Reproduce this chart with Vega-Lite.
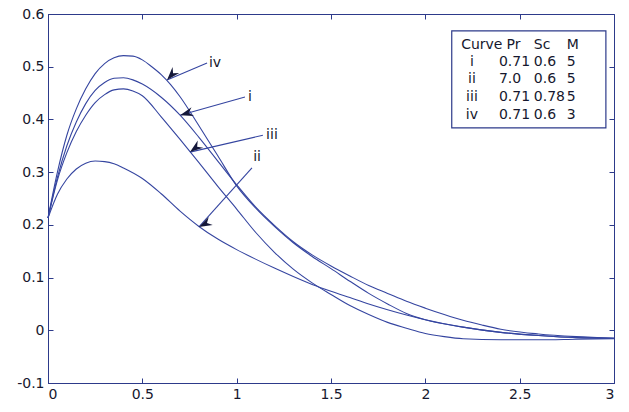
{
  "$schema": "https://vega.github.io/schema/vega-lite/v6.json",
  "width": 566,
  "height": 369,
  "autosize": "none",
  "padding": {"left": 48, "top": 14, "right": 15, "bottom": 29},
  "background": "white",
  "config": {
    "view": {"stroke": "#2d3a8a", "strokeWidth": 1},
    "axis": {
      "grid": false,
      "domainColor": "#2d3a8a",
      "tickColor": "#2d3a8a",
      "tickSize": -5,
      "labelPadding": 9,
      "labelFont": "DejaVu Sans",
      "labelFontSize": 14,
      "labelColor": "#16182e",
      "title": null
    },
    "text": {"font": "DejaVu Sans", "color": "#16182e"}
  },
  "datasets": {
    "curves": [
      {"curve": "iv", "x": 0, "y": 0.213}, {"curve": "iv", "x": 0.05, "y": 0.30}, {"curve": "iv", "x": 0.1, "y": 0.37}, {"curve": "iv", "x": 0.15, "y": 0.42}, {"curve": "iv", "x": 0.2, "y": 0.458}, {"curve": "iv", "x": 0.25, "y": 0.487}, {"curve": "iv", "x": 0.3, "y": 0.506}, {"curve": "iv", "x": 0.35, "y": 0.517}, {"curve": "iv", "x": 0.4, "y": 0.521}, {"curve": "iv", "x": 0.45, "y": 0.52}, {"curve": "iv", "x": 0.5, "y": 0.513}, {"curve": "iv", "x": 0.55, "y": 0.50}, {"curve": "iv", "x": 0.6, "y": 0.485}, {"curve": "iv", "x": 0.65, "y": 0.466}, {"curve": "iv", "x": 0.7, "y": 0.443}, {"curve": "iv", "x": 0.8, "y": 0.388}, {"curve": "iv", "x": 0.9, "y": 0.331}, {"curve": "iv", "x": 1.0, "y": 0.274}, {"curve": "iv", "x": 1.1, "y": 0.232}, {"curve": "iv", "x": 1.2, "y": 0.197}, {"curve": "iv", "x": 1.3, "y": 0.166}, {"curve": "iv", "x": 1.4, "y": 0.14}, {"curve": "iv", "x": 1.5, "y": 0.117}, {"curve": "iv", "x": 1.6, "y": 0.093}, {"curve": "iv", "x": 1.7, "y": 0.07}, {"curve": "iv", "x": 1.8, "y": 0.05}, {"curve": "iv", "x": 1.9, "y": 0.032}, {"curve": "iv", "x": 2.0, "y": 0.02}, {"curve": "iv", "x": 2.2, "y": 0.006}, {"curve": "iv", "x": 2.4, "y": -0.004}, {"curve": "iv", "x": 2.6, "y": -0.01}, {"curve": "iv", "x": 2.8, "y": -0.014}, {"curve": "iv", "x": 3.0, "y": -0.015},
      {"curve": "i", "x": 0, "y": 0.213}, {"curve": "i", "x": 0.05, "y": 0.29}, {"curve": "i", "x": 0.1, "y": 0.35}, {"curve": "i", "x": 0.15, "y": 0.395}, {"curve": "i", "x": 0.2, "y": 0.43}, {"curve": "i", "x": 0.25, "y": 0.455}, {"curve": "i", "x": 0.3, "y": 0.47}, {"curve": "i", "x": 0.35, "y": 0.478}, {"curve": "i", "x": 0.4, "y": 0.479}, {"curve": "i", "x": 0.45, "y": 0.475}, {"curve": "i", "x": 0.5, "y": 0.467}, {"curve": "i", "x": 0.6, "y": 0.442}, {"curve": "i", "x": 0.7, "y": 0.408}, {"curve": "i", "x": 0.8, "y": 0.366}, {"curve": "i", "x": 0.9, "y": 0.321}, {"curve": "i", "x": 1.0, "y": 0.276}, {"curve": "i", "x": 1.1, "y": 0.234}, {"curve": "i", "x": 1.2, "y": 0.199}, {"curve": "i", "x": 1.3, "y": 0.168}, {"curve": "i", "x": 1.4, "y": 0.143}, {"curve": "i", "x": 1.5, "y": 0.122}, {"curve": "i", "x": 1.6, "y": 0.103}, {"curve": "i", "x": 1.7, "y": 0.085}, {"curve": "i", "x": 1.8, "y": 0.07}, {"curve": "i", "x": 1.9, "y": 0.055}, {"curve": "i", "x": 2.0, "y": 0.042}, {"curve": "i", "x": 2.1, "y": 0.03}, {"curve": "i", "x": 2.2, "y": 0.019}, {"curve": "i", "x": 2.3, "y": 0.01}, {"curve": "i", "x": 2.4, "y": 0.002}, {"curve": "i", "x": 2.6, "y": -0.007}, {"curve": "i", "x": 2.8, "y": -0.012}, {"curve": "i", "x": 3.0, "y": -0.015},
      {"curve": "iii", "x": 0, "y": 0.213}, {"curve": "iii", "x": 0.05, "y": 0.285}, {"curve": "iii", "x": 0.1, "y": 0.337}, {"curve": "iii", "x": 0.15, "y": 0.377}, {"curve": "iii", "x": 0.2, "y": 0.408}, {"curve": "iii", "x": 0.25, "y": 0.432}, {"curve": "iii", "x": 0.3, "y": 0.447}, {"curve": "iii", "x": 0.35, "y": 0.456}, {"curve": "iii", "x": 0.4, "y": 0.458}, {"curve": "iii", "x": 0.45, "y": 0.454}, {"curve": "iii", "x": 0.5, "y": 0.445}, {"curve": "iii", "x": 0.6, "y": 0.405}, {"curve": "iii", "x": 0.7, "y": 0.362}, {"curve": "iii", "x": 0.8, "y": 0.318}, {"curve": "iii", "x": 0.9, "y": 0.273}, {"curve": "iii", "x": 1.0, "y": 0.23}, {"curve": "iii", "x": 1.1, "y": 0.186}, {"curve": "iii", "x": 1.2, "y": 0.148}, {"curve": "iii", "x": 1.3, "y": 0.116}, {"curve": "iii", "x": 1.4, "y": 0.09}, {"curve": "iii", "x": 1.5, "y": 0.068}, {"curve": "iii", "x": 1.6, "y": 0.047}, {"curve": "iii", "x": 1.7, "y": 0.03}, {"curve": "iii", "x": 1.8, "y": 0.015}, {"curve": "iii", "x": 1.9, "y": 0.004}, {"curve": "iii", "x": 2.0, "y": -0.006}, {"curve": "iii", "x": 2.1, "y": -0.012}, {"curve": "iii", "x": 2.2, "y": -0.016}, {"curve": "iii", "x": 2.4, "y": -0.018}, {"curve": "iii", "x": 2.6, "y": -0.018}, {"curve": "iii", "x": 2.8, "y": -0.017}, {"curve": "iii", "x": 3.0, "y": -0.016},
      {"curve": "ii", "x": 0, "y": 0.213}, {"curve": "ii", "x": 0.05, "y": 0.258}, {"curve": "ii", "x": 0.1, "y": 0.287}, {"curve": "ii", "x": 0.15, "y": 0.306}, {"curve": "ii", "x": 0.2, "y": 0.317}, {"curve": "ii", "x": 0.25, "y": 0.321}, {"curve": "ii", "x": 0.3, "y": 0.32}, {"curve": "ii", "x": 0.35, "y": 0.316}, {"curve": "ii", "x": 0.4, "y": 0.308}, {"curve": "ii", "x": 0.5, "y": 0.288}, {"curve": "ii", "x": 0.6, "y": 0.259}, {"curve": "ii", "x": 0.7, "y": 0.226}, {"curve": "ii", "x": 0.8, "y": 0.197}, {"curve": "ii", "x": 0.9, "y": 0.173}, {"curve": "ii", "x": 1.0, "y": 0.153}, {"curve": "ii", "x": 1.1, "y": 0.135}, {"curve": "ii", "x": 1.2, "y": 0.118}, {"curve": "ii", "x": 1.3, "y": 0.102}, {"curve": "ii", "x": 1.4, "y": 0.087}, {"curve": "ii", "x": 1.5, "y": 0.074}, {"curve": "ii", "x": 1.6, "y": 0.062}, {"curve": "ii", "x": 1.7, "y": 0.05}, {"curve": "ii", "x": 1.8, "y": 0.039}, {"curve": "ii", "x": 1.9, "y": 0.029}, {"curve": "ii", "x": 2.0, "y": 0.02}, {"curve": "ii", "x": 2.2, "y": 0.006}, {"curve": "ii", "x": 2.4, "y": -0.004}, {"curve": "ii", "x": 2.6, "y": -0.01}, {"curve": "ii", "x": 2.8, "y": -0.014}, {"curve": "ii", "x": 3.0, "y": -0.015}
    ],
    "arrows": [
      {"curve": "iv", "tipx": 0.631, "tipy": 0.475, "startx": 0.843, "starty": 0.507},
      {"curve": "i", "tipx": 0.70, "tipy": 0.408, "startx": 1.044, "starty": 0.4425},
      {"curve": "iii", "tipx": 0.7525, "tipy": 0.338, "startx": 1.139, "starty": 0.370},
      {"curve": "ii", "tipx": 0.80, "tipy": 0.196, "startx": 1.081, "starty": 0.308}
    ],
    "arrowLabels": [
      {"text": "iv", "x": 0.885, "y": 0.507},
      {"text": "i", "x": 1.07, "y": 0.4425},
      {"text": "iii", "x": 1.187, "y": 0.370},
      {"text": "ii", "x": 1.108, "y": 0.329}
    ],
    "box": [{"x": 2.14, "x2": 2.957, "y": 0.568, "y2": 0.384}],
    "tableCells": [
      {"text": "Curve", "x": 2.19, "y": 0.541},
      {"text": "Pr", "x": 2.43, "y": 0.541},
      {"text": "Sc", "x": 2.575, "y": 0.541},
      {"text": "M", "x": 2.75, "y": 0.541},
      {"text": "0.71", "x": 2.39, "y": 0.508},
      {"text": "0.6", "x": 2.575, "y": 0.508},
      {"text": "5", "x": 2.75, "y": 0.508},
      {"text": "7.0", "x": 2.39, "y": 0.476},
      {"text": "0.6", "x": 2.575, "y": 0.476},
      {"text": "5", "x": 2.75, "y": 0.476},
      {"text": "0.71", "x": 2.39, "y": 0.442},
      {"text": "0.78", "x": 2.575, "y": 0.442},
      {"text": "5", "x": 2.75, "y": 0.442},
      {"text": "0.71", "x": 2.39, "y": 0.408},
      {"text": "0.6", "x": 2.575, "y": 0.408},
      {"text": "3", "x": 2.75, "y": 0.408}
    ],
    "rowLabels": [
      {"text": "i", "x": 2.247, "y": 0.508},
      {"text": "ii", "x": 2.247, "y": 0.476},
      {"text": "iii", "x": 2.247, "y": 0.442},
      {"text": "iv", "x": 2.247, "y": 0.408}
    ]
  },
  "resolve": {"axis": {"x": "independent", "y": "independent"}},
  "layer": [
    {
      "data": {"name": "curves"},
      "mark": {"type": "line", "interpolate": "monotone", "color": "#3545a0", "strokeWidth": 1.1},
      "encoding": {
        "x": {"field": "x", "type": "quantitative", "scale": {"domain": [0, 3], "nice": false, "zero": false},
              "axis": {"orient": "bottom", "values": [0, 0.5, 1, 1.5, 2, 2.5, 3], "format": "~g"}},
        "y": {"field": "y", "type": "quantitative", "scale": {"domain": [-0.1, 0.6], "nice": false, "zero": false},
              "axis": {"orient": "left", "values": [-0.1, 0, 0.1, 0.2, 0.3, 0.4, 0.5, 0.6],
                       "labelExpr": "datum.value == 0 ? '0' : (datum.value < 0 ? '-' + format(-datum.value, '.1f') : format(datum.value, '.1f'))"}},
        "detail": {"field": "curve", "type": "nominal"}
      }
    },
    {
      "data": {"name": "box"},
      "mark": {"type": "rect", "fill": "white", "stroke": "#2d3a8a", "strokeWidth": 1.2},
      "encoding": {
        "x": {"field": "x", "type": "quantitative", "axis": {"orient": "top", "labels": false, "domain": false, "values": [0, 0.5, 1, 1.5, 2, 2.5, 3]}},
        "x2": {"field": "x2"},
        "y": {"field": "y", "type": "quantitative", "axis": {"orient": "right", "labels": false, "domain": false, "values": [-0.1, 0, 0.1, 0.2, 0.3, 0.4, 0.5, 0.6]}},
        "y2": {"field": "y2"}
      }
    },
    {
      "data": {"name": "arrows"},
      "mark": {"type": "rule", "color": "#3545a0", "strokeWidth": 1.1},
      "encoding": {
        "x": {"field": "tipx", "type": "quantitative", "axis": null},
        "y": {"field": "tipy", "type": "quantitative", "axis": null},
        "x2": {"field": "startx"},
        "y2": {"field": "starty"}
      }
    },
    {
      "data": {"name": "arrows"},
      "mark": {"type": "point", "filled": true, "color": "#15183a", "opacity": 1, "size": 144,
               "shape": "M0,0L-0.75,2.2L0,1.5L0.75,2.2Z"},
      "encoding": {
        "x": {"field": "tipx", "type": "quantitative", "axis": null},
        "y": {"field": "tipy", "type": "quantitative", "axis": null},
        "angle": {"field": "curve", "type": "nominal", "legend": null,
                  "scale": {"domain": ["i", "ii", "iii", "iv"], "range": [254, 222, 257, 247]}}
      }
    },
    {
      "data": {"name": "arrowLabels"},
      "mark": {"type": "text", "align": "center", "baseline": "middle", "fontSize": 14},
      "encoding": {
        "x": {"field": "x", "type": "quantitative", "axis": null},
        "y": {"field": "y", "type": "quantitative", "axis": null},
        "text": {"field": "text"}
      }
    },
    {
      "data": {"name": "tableCells"},
      "mark": {"type": "text", "align": "left", "baseline": "middle", "fontSize": 14},
      "encoding": {
        "x": {"field": "x", "type": "quantitative", "axis": null},
        "y": {"field": "y", "type": "quantitative", "axis": null},
        "text": {"field": "text"}
      }
    },
    {
      "data": {"name": "rowLabels"},
      "mark": {"type": "text", "align": "center", "baseline": "middle", "fontSize": 14},
      "encoding": {
        "x": {"field": "x", "type": "quantitative", "axis": null},
        "y": {"field": "y", "type": "quantitative", "axis": null},
        "text": {"field": "text"}
      }
    }
  ]
}
